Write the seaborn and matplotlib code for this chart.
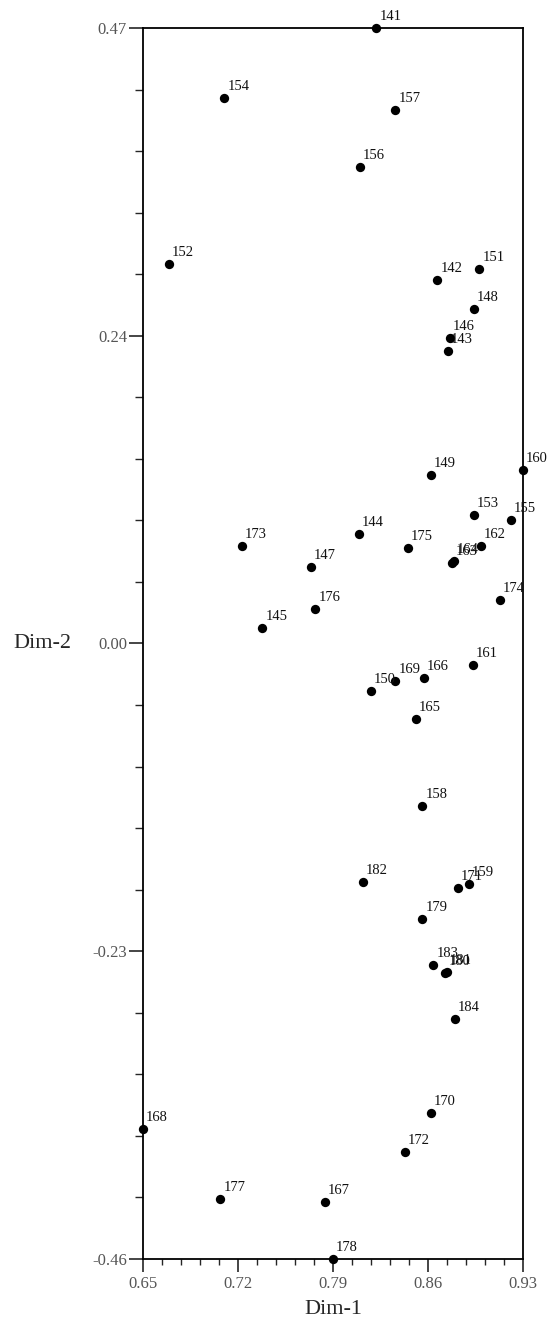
import matplotlib
matplotlib.use("Agg")
import matplotlib.pyplot as plt
from matplotlib.ticker import FixedLocator, AutoMinorLocator
import seaborn as sns
import pandas as pd

# ----------------------------
# Data: point ids and coordinates
# ----------------------------
ids = [141, 142, 143, 144, 145, 146, 147, 148, 149, 150,
       151, 152, 153, 154, 155, 156, 157, 158, 159, 160,
       161, 162, 163, 164, 165, 166, 167, 168, 169, 170,
       171, 172, 173, 174, 175, 176, 177, 178, 179, 180,
       181, 182, 183, 184]
dim1 = [0.822, 0.867, 0.875, 0.809, 0.738, 0.876, 0.774, 0.894, 0.862, 0.818,
        0.898, 0.669, 0.894, 0.710, 0.921, 0.810, 0.836, 0.856, 0.890, 0.930,
        0.893, 0.899, 0.878, 0.879, 0.851, 0.857, 0.784, 0.650, 0.836, 0.862,
        0.882, 0.843, 0.723, 0.913, 0.845, 0.777, 0.707, 0.790, 0.856, 0.873,
        0.874, 0.812, 0.864, 0.880]
dim2 = [0.470, 0.280, 0.226, 0.088, 0.017, 0.236, 0.063, 0.258, 0.132, -0.031,
        0.288, 0.292, 0.102, 0.417, 0.098, 0.365, 0.408, -0.118, -0.177, 0.136,
        -0.011, 0.079, 0.066, 0.067, -0.052, -0.021, -0.417, -0.362, -0.023, -0.350,
        -0.180, -0.379, 0.079, 0.038, 0.077, 0.031, -0.415, -0.460, -0.203, -0.244,
        -0.243, -0.175, -0.238, -0.279]

x_ticks = [0.65, 0.72, 0.79, 0.86, 0.93]
y_ticks = [0.47, 0.2375, 0.005, -0.2275, -0.46]
y_tick_labels = ["0.47", "0.24", "0.00", "-0.23", "-0.46"]

df = pd.DataFrame({"id": ids, "Dim-1": dim1, "Dim-2": dim2})

sns.set_style("ticks")
plt.rcParams["font.family"] = ["Liberation Serif", "DejaVu Serif"]

fig = plt.figure(figsize=(5.48, 13.22), dpi=100)
ax = fig.add_axes([0.261, 0.0477, 0.693, 0.9311])

sns.scatterplot(data=df, x="Dim-1", y="Dim-2", ax=ax, color="black",
                s=45, edgecolor="black", linewidth=0, clip_on=False, zorder=3)

# point ids, up and to the right of each dot
for _, row in df.iterrows():
    ax.annotate(str(int(row["id"])), (row["Dim-1"], row["Dim-2"]),
                xytext=(3, 8), textcoords="offset pixels",
                ha="left", va="baseline", fontsize=10.5, color="#111111",
                annotation_clip=False)

ax.set_xlim(0.65, 0.93)
ax.set_ylim(-0.46, 0.47)
ax.xaxis.set_major_locator(FixedLocator(x_ticks))
ax.yaxis.set_major_locator(FixedLocator(y_ticks))
ax.set_xticklabels([f"{v:.2f}" for v in x_ticks])
ax.set_yticklabels(y_tick_labels)
ax.xaxis.set_minor_locator(AutoMinorLocator(5))
ax.yaxis.set_minor_locator(AutoMinorLocator(5))

ax.tick_params(axis="y", which="major", direction="out", length=10,
               width=1.2, labelsize=12, labelcolor="#555555", pad=1.5)
ax.tick_params(axis="y", which="minor", direction="out", length=6, width=1.0)
ax.tick_params(axis="x", which="major", direction="out", length=9,
               width=1.2, labelsize=12, labelcolor="#555555", pad=3)
ax.tick_params(axis="x", which="minor", direction="out", length=4, width=1.0)
ax.tick_params(top=False, right=False, which="both")

for sp in ax.spines.values():
    sp.set_linewidth(1.3)
    sp.set_color("black")

ax.set_xlabel("Dim-1", fontsize=16, va="center")
ax.set_ylabel("Dim-2", fontsize=16, rotation=0, va="center", ha="center")
ax.xaxis.set_label_coords(0.5, -0.0414)
ax.yaxis.set_label_coords(-0.266, 0.5)

fig.savefig("out.png", dpi=100)
